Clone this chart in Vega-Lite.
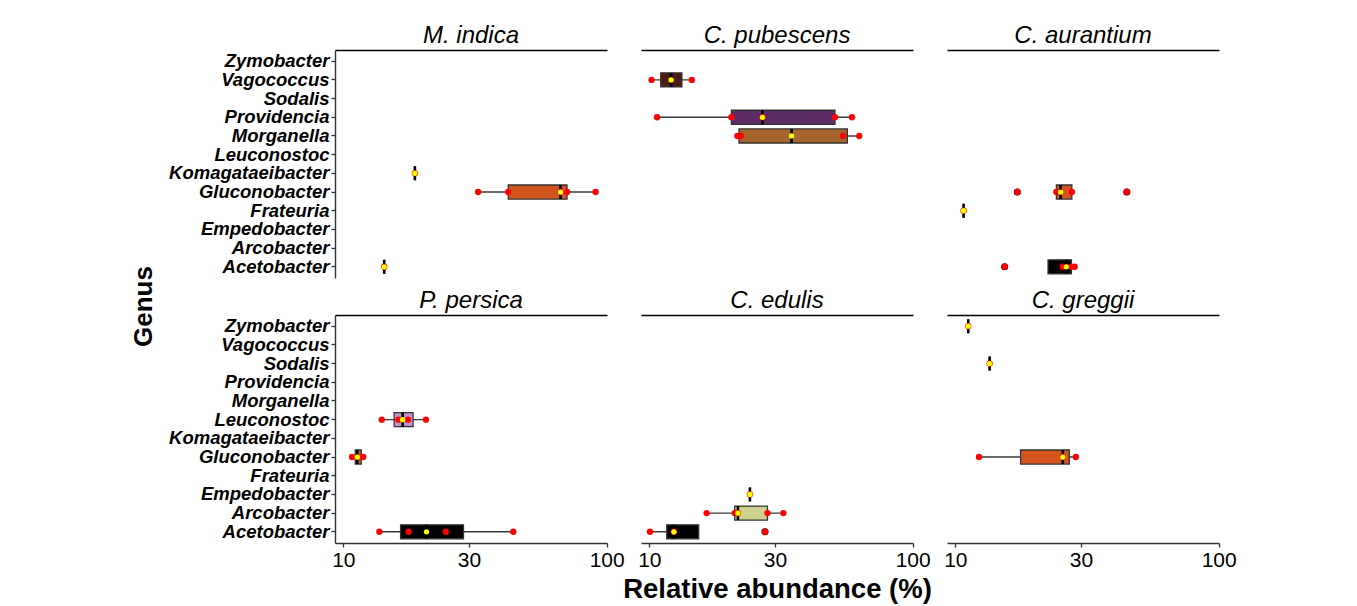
{
  "$schema": "https://vega.github.io/schema/vega-lite/v6.json",
  "padding": {"left": 130, "top": 24, "right": 5, "bottom": 5},
  "background": "white",
  "datasets": {
    "boxes": [
      {"plant": "M. indica", "genus": "Komagataeibacter", "lo": 18.7, "q1": 18.7, "med": 18.7, "q3": 18.7, "hi": 18.7},
      {"plant": "M. indica", "genus": "Gluconobacter", "lo": 32.5, "q1": 42.3, "med": 66.8, "q3": 70.7, "hi": 90.8},
      {"plant": "M. indica", "genus": "Acetobacter", "lo": 14.3, "q1": 14.3, "med": 14.3, "q3": 14.3, "hi": 14.3},
      {"plant": "C. pubescens", "genus": "Vagococcus", "lo": 10.2, "q1": 11.05, "med": 12.1, "q3": 13.3, "hi": 14.5},
      {"plant": "C. pubescens", "genus": "Providencia", "lo": 10.7, "q1": 20.5, "med": 26.9, "q3": 50.7, "hi": 58.8},
      {"plant": "C. pubescens", "genus": "Morganella", "lo": 21.6, "q1": 21.9, "med": 34.7, "q3": 56.5, "hi": 62.7},
      {"plant": "C. aurantium", "genus": "Gluconobacter", "lo": 24.2, "q1": 24.2, "med": 25.1, "q3": 27.7, "hi": 27.7},
      {"plant": "C. aurantium", "genus": "Frateuria", "lo": 10.75, "q1": 10.75, "med": 10.75, "q3": 10.75, "hi": 10.75},
      {"plant": "C. aurantium", "genus": "Acetobacter", "lo": 22.5, "q1": 22.5, "med": 26.4, "q3": 27.6, "hi": 28.4},
      {"plant": "P. persica", "genus": "Leuconostoc", "lo": 14.0, "q1": 15.6, "med": 16.8, "q3": 18.4, "hi": 20.6},
      {"plant": "P. persica", "genus": "Gluconobacter", "lo": 10.8, "q1": 11.1, "med": 11.3, "q3": 11.7, "hi": 11.9},
      {"plant": "P. persica", "genus": "Acetobacter", "lo": 13.7, "q1": 16.5, "med": 20.7, "q3": 28.6, "hi": 44.2},
      {"plant": "C. edulis", "genus": "Empedobacter", "lo": 24.1, "q1": 24.1, "med": 24.1, "q3": 24.1, "hi": 24.1},
      {"plant": "C. edulis", "genus": "Arcobacter", "lo": 16.5, "q1": 21.1, "med": 21.7, "q3": 28.1, "hi": 32.3},
      {"plant": "C. edulis", "genus": "Acetobacter", "lo": 10.06, "q1": 11.65, "med": 12.4, "q3": 15.4, "hi": 15.4},
      {"plant": "C. greggii", "genus": "Zymobacter", "lo": 11.2, "q1": 11.2, "med": 11.2, "q3": 11.2, "hi": 11.2},
      {"plant": "C. greggii", "genus": "Sodalis", "lo": 13.5, "q1": 13.5, "med": 13.5, "q3": 13.5, "hi": 13.5},
      {"plant": "C. greggii", "genus": "Gluconobacter", "lo": 12.3, "q1": 17.7, "med": 25.6, "q3": 27.1, "hi": 28.7}
    ],
    "points": [
      {"plant": "M. indica", "genus": "Komagataeibacter", "kind": "pt", "value": 18.7},
      {"plant": "M. indica", "genus": "Acetobacter", "kind": "pt", "value": 14.3},
      {"plant": "M. indica", "genus": "Gluconobacter", "kind": "pt", "value": 32.5},
      {"plant": "M. indica", "genus": "Gluconobacter", "kind": "pt", "value": 42.3},
      {"plant": "M. indica", "genus": "Gluconobacter", "kind": "pt", "value": 66.8},
      {"plant": "M. indica", "genus": "Gluconobacter", "kind": "pt", "value": 70.7},
      {"plant": "M. indica", "genus": "Gluconobacter", "kind": "pt", "value": 90.8},
      {"plant": "C. pubescens", "genus": "Vagococcus", "kind": "pt", "value": 10.2},
      {"plant": "C. pubescens", "genus": "Vagococcus", "kind": "pt", "value": 14.5},
      {"plant": "C. pubescens", "genus": "Providencia", "kind": "pt", "value": 10.7},
      {"plant": "C. pubescens", "genus": "Providencia", "kind": "pt", "value": 20.5},
      {"plant": "C. pubescens", "genus": "Providencia", "kind": "pt", "value": 26.9},
      {"plant": "C. pubescens", "genus": "Providencia", "kind": "pt", "value": 50.7},
      {"plant": "C. pubescens", "genus": "Providencia", "kind": "pt", "value": 58.8},
      {"plant": "C. pubescens", "genus": "Morganella", "kind": "pt", "value": 21.6},
      {"plant": "C. pubescens", "genus": "Morganella", "kind": "pt", "value": 22.3},
      {"plant": "C. pubescens", "genus": "Morganella", "kind": "pt", "value": 54.4},
      {"plant": "C. pubescens", "genus": "Morganella", "kind": "pt", "value": 62.7},
      {"plant": "C. aurantium", "genus": "Frateuria", "kind": "pt", "value": 10.75},
      {"plant": "C. aurantium", "genus": "Gluconobacter", "kind": "out", "value": 17.2},
      {"plant": "C. aurantium", "genus": "Gluconobacter", "kind": "out", "value": 44.8},
      {"plant": "C. aurantium", "genus": "Gluconobacter", "kind": "pt", "value": 17.2},
      {"plant": "C. aurantium", "genus": "Gluconobacter", "kind": "pt", "value": 24.2},
      {"plant": "C. aurantium", "genus": "Gluconobacter", "kind": "pt", "value": 27.7},
      {"plant": "C. aurantium", "genus": "Gluconobacter", "kind": "pt", "value": 44.8},
      {"plant": "C. aurantium", "genus": "Acetobacter", "kind": "out", "value": 15.4},
      {"plant": "C. aurantium", "genus": "Acetobacter", "kind": "pt", "value": 15.4},
      {"plant": "C. aurantium", "genus": "Acetobacter", "kind": "pt", "value": 25.6},
      {"plant": "C. aurantium", "genus": "Acetobacter", "kind": "pt", "value": 27.6},
      {"plant": "C. aurantium", "genus": "Acetobacter", "kind": "pt", "value": 28.4},
      {"plant": "P. persica", "genus": "Leuconostoc", "kind": "pt", "value": 14.0},
      {"plant": "P. persica", "genus": "Leuconostoc", "kind": "pt", "value": 16.2},
      {"plant": "P. persica", "genus": "Leuconostoc", "kind": "pt", "value": 17.6},
      {"plant": "P. persica", "genus": "Leuconostoc", "kind": "pt", "value": 20.6},
      {"plant": "P. persica", "genus": "Gluconobacter", "kind": "pt", "value": 10.8},
      {"plant": "P. persica", "genus": "Gluconobacter", "kind": "pt", "value": 11.9},
      {"plant": "P. persica", "genus": "Acetobacter", "kind": "pt", "value": 13.7},
      {"plant": "P. persica", "genus": "Acetobacter", "kind": "pt", "value": 17.7},
      {"plant": "P. persica", "genus": "Acetobacter", "kind": "pt", "value": 24.5},
      {"plant": "P. persica", "genus": "Acetobacter", "kind": "pt", "value": 44.2},
      {"plant": "C. edulis", "genus": "Empedobacter", "kind": "pt", "value": 24.1},
      {"plant": "C. edulis", "genus": "Arcobacter", "kind": "pt", "value": 16.5},
      {"plant": "C. edulis", "genus": "Arcobacter", "kind": "pt", "value": 21.1},
      {"plant": "C. edulis", "genus": "Arcobacter", "kind": "pt", "value": 21.7},
      {"plant": "C. edulis", "genus": "Arcobacter", "kind": "pt", "value": 28.1},
      {"plant": "C. edulis", "genus": "Arcobacter", "kind": "pt", "value": 32.3},
      {"plant": "C. edulis", "genus": "Acetobacter", "kind": "out", "value": 27.5},
      {"plant": "C. edulis", "genus": "Acetobacter", "kind": "pt", "value": 10.06},
      {"plant": "C. edulis", "genus": "Acetobacter", "kind": "pt", "value": 12.4},
      {"plant": "C. edulis", "genus": "Acetobacter", "kind": "pt", "value": 27.5},
      {"plant": "C. greggii", "genus": "Zymobacter", "kind": "pt", "value": 11.2},
      {"plant": "C. greggii", "genus": "Sodalis", "kind": "pt", "value": 13.5},
      {"plant": "C. greggii", "genus": "Gluconobacter", "kind": "pt", "value": 12.3},
      {"plant": "C. greggii", "genus": "Gluconobacter", "kind": "pt", "value": 25.6},
      {"plant": "C. greggii", "genus": "Gluconobacter", "kind": "pt", "value": 28.7}
    ]
  },
  "columns": 3,
  "bounds": "flush",
  "spacing": {"row": 37, "column": 34},
  "concat": [
    {
      "width": 272, "height": 228,
      "title": {"text": "M. indica"},
      "resolve": {"axis": {"x": "independent", "y": "independent"}},
      "layer": [
        {"data": {"name": "boxes"}, "transform": [{"filter": "datum.plant === 'M. indica'"}],
         "mark": {"type": "rule", "color": "#3a3a3a", "strokeWidth": 1.4},
         "encoding": {
           "x": {"field": "lo", "type": "quantitative", "scale": {"type": "log", "domain": [9.3, 100.3], "nice": false}, "axis": {"orient": "top", "labels": false, "ticks": false, "title": null, "domainColor": "#000", "domainWidth": 1.5}},
           "x2": {"field": "hi"},
           "y": {"field": "genus", "type": "nominal", "scale": {"type": "band", "domain": ["Zymobacter","Vagococcus","Sodalis","Providencia","Morganella","Leuconostoc","Komagataeibacter","Gluconobacter","Frateuria","Empedobacter","Arcobacter","Acetobacter"], "paddingInner": 0.25, "paddingOuter": 0.225}, "axis": {"title": "Genus", "titleY": 256}}
         }},
        {"data": {"name": "boxes"}, "transform": [{"filter": "datum.plant === 'M. indica'"}],
         "mark": {"type": "bar", "stroke": "#333333", "strokeWidth": 1.3},
         "encoding": {
           "x": {"field": "q1", "type": "quantitative", "scale": {"type": "log", "domain": [9.3, 100.3], "nice": false}, "axis": null},
           "x2": {"field": "q3"},
           "y": {"field": "genus", "type": "nominal", "scale": {"type": "band", "domain": ["Zymobacter","Vagococcus","Sodalis","Providencia","Morganella","Leuconostoc","Komagataeibacter","Gluconobacter","Frateuria","Empedobacter","Arcobacter","Acetobacter"], "paddingInner": 0.25, "paddingOuter": 0.225}, "axis": null},
           "fill": {"field": "genus", "type": "nominal", "legend": null, "scale": {"domain": ["Acetobacter","Gluconobacter","Providencia","Morganella","Vagococcus","Leuconostoc","Arcobacter","Frateuria","Komagataeibacter","Empedobacter","Zymobacter","Sodalis"], "range": ["#000000","#D4561F","#5E2C69","#A6642E","#4E1B17","#C590CF","#CDD38F","#808080","#808080","#808080","#808080","#808080"]}}
         }},
        {"data": {"name": "boxes"}, "transform": [{"filter": "datum.plant === 'M. indica'"}],
         "mark": {"type": "bar", "stroke": "#000000", "strokeWidth": 2.6, "fill": "#000000"},
         "encoding": {
           "x": {"field": "med", "type": "quantitative", "scale": {"type": "log", "domain": [9.3, 100.3], "nice": false}, "axis": null},
           "x2": {"field": "med"},
           "y": {"field": "genus", "type": "nominal", "scale": {"type": "band", "domain": ["Zymobacter","Vagococcus","Sodalis","Providencia","Morganella","Leuconostoc","Komagataeibacter","Gluconobacter","Frateuria","Empedobacter","Arcobacter","Acetobacter"], "paddingInner": 0.25, "paddingOuter": 0.225}, "axis": null}
         }},
        {"data": {"name": "points"}, "transform": [{"filter": "datum.plant === 'M. indica' && datum.kind === 'out'"}],
         "mark": {"type": "circle", "color": "#000000", "size": 50, "opacity": 1},
         "encoding": {
           "x": {"field": "value", "type": "quantitative", "scale": {"type": "log", "domain": [9.3, 100.3], "nice": false}, "axis": null},
           "y": {"field": "genus", "type": "nominal", "scale": {"type": "band", "domain": ["Zymobacter","Vagococcus","Sodalis","Providencia","Morganella","Leuconostoc","Komagataeibacter","Gluconobacter","Frateuria","Empedobacter","Arcobacter","Acetobacter"], "paddingInner": 0.25, "paddingOuter": 0.225}, "axis": null}
         }},
        {"data": {"name": "points"}, "transform": [{"filter": "datum.plant === 'M. indica' && datum.kind === 'pt'"}],
         "mark": {"type": "circle", "color": "#FF0000", "size": 40, "opacity": 1},
         "encoding": {
           "x": {"field": "value", "type": "quantitative", "scale": {"type": "log", "domain": [9.3, 100.3], "nice": false}, "axis": null},
           "y": {"field": "genus", "type": "nominal", "scale": {"type": "band", "domain": ["Zymobacter","Vagococcus","Sodalis","Providencia","Morganella","Leuconostoc","Komagataeibacter","Gluconobacter","Frateuria","Empedobacter","Arcobacter","Acetobacter"], "paddingInner": 0.25, "paddingOuter": 0.225}, "axis": null}
         }},
        {"data": {"name": "boxes"}, "transform": [{"filter": "datum.plant === 'M. indica'"}],
         "mark": {"type": "circle", "color": "#FFFF00", "size": 28, "opacity": 1},
         "encoding": {
           "x": {"field": "med", "type": "quantitative", "scale": {"type": "log", "domain": [9.3, 100.3], "nice": false}, "axis": null},
           "y": {"field": "genus", "type": "nominal", "scale": {"type": "band", "domain": ["Zymobacter","Vagococcus","Sodalis","Providencia","Morganella","Leuconostoc","Komagataeibacter","Gluconobacter","Frateuria","Empedobacter","Arcobacter","Acetobacter"], "paddingInner": 0.25, "paddingOuter": 0.225}, "axis": null}
         }}
      ]
    },
    {
      "width": 272, "height": 228,
      "title": {"text": "C. pubescens"},
      "resolve": {"axis": {"x": "independent", "y": "independent"}},
      "layer": [
        {"data": {"name": "boxes"}, "transform": [{"filter": "datum.plant === 'C. pubescens'"}],
         "mark": {"type": "rule", "color": "#3a3a3a", "strokeWidth": 1.4},
         "encoding": {
           "x": {"field": "lo", "type": "quantitative", "scale": {"type": "log", "domain": [9.3, 100.3], "nice": false}, "axis": {"orient": "top", "labels": false, "ticks": false, "title": null, "domainColor": "#000", "domainWidth": 1.5}},
           "x2": {"field": "hi"},
           "y": {"field": "genus", "type": "nominal", "scale": {"type": "band", "domain": ["Zymobacter","Vagococcus","Sodalis","Providencia","Morganella","Leuconostoc","Komagataeibacter","Gluconobacter","Frateuria","Empedobacter","Arcobacter","Acetobacter"], "paddingInner": 0.25, "paddingOuter": 0.225}, "axis": null}
         }},
        {"data": {"name": "boxes"}, "transform": [{"filter": "datum.plant === 'C. pubescens'"}],
         "mark": {"type": "bar", "stroke": "#333333", "strokeWidth": 1.3},
         "encoding": {
           "x": {"field": "q1", "type": "quantitative", "scale": {"type": "log", "domain": [9.3, 100.3], "nice": false}, "axis": null},
           "x2": {"field": "q3"},
           "y": {"field": "genus", "type": "nominal", "scale": {"type": "band", "domain": ["Zymobacter","Vagococcus","Sodalis","Providencia","Morganella","Leuconostoc","Komagataeibacter","Gluconobacter","Frateuria","Empedobacter","Arcobacter","Acetobacter"], "paddingInner": 0.25, "paddingOuter": 0.225}, "axis": null},
           "fill": {"field": "genus", "type": "nominal", "legend": null, "scale": {"domain": ["Acetobacter","Gluconobacter","Providencia","Morganella","Vagococcus","Leuconostoc","Arcobacter","Frateuria","Komagataeibacter","Empedobacter","Zymobacter","Sodalis"], "range": ["#000000","#D4561F","#5E2C69","#A6642E","#4E1B17","#C590CF","#CDD38F","#808080","#808080","#808080","#808080","#808080"]}}
         }},
        {"data": {"name": "boxes"}, "transform": [{"filter": "datum.plant === 'C. pubescens'"}],
         "mark": {"type": "bar", "stroke": "#000000", "strokeWidth": 2.6, "fill": "#000000"},
         "encoding": {
           "x": {"field": "med", "type": "quantitative", "scale": {"type": "log", "domain": [9.3, 100.3], "nice": false}, "axis": null},
           "x2": {"field": "med"},
           "y": {"field": "genus", "type": "nominal", "scale": {"type": "band", "domain": ["Zymobacter","Vagococcus","Sodalis","Providencia","Morganella","Leuconostoc","Komagataeibacter","Gluconobacter","Frateuria","Empedobacter","Arcobacter","Acetobacter"], "paddingInner": 0.25, "paddingOuter": 0.225}, "axis": null}
         }},
        {"data": {"name": "points"}, "transform": [{"filter": "datum.plant === 'C. pubescens' && datum.kind === 'out'"}],
         "mark": {"type": "circle", "color": "#000000", "size": 50, "opacity": 1},
         "encoding": {
           "x": {"field": "value", "type": "quantitative", "scale": {"type": "log", "domain": [9.3, 100.3], "nice": false}, "axis": null},
           "y": {"field": "genus", "type": "nominal", "scale": {"type": "band", "domain": ["Zymobacter","Vagococcus","Sodalis","Providencia","Morganella","Leuconostoc","Komagataeibacter","Gluconobacter","Frateuria","Empedobacter","Arcobacter","Acetobacter"], "paddingInner": 0.25, "paddingOuter": 0.225}, "axis": null}
         }},
        {"data": {"name": "points"}, "transform": [{"filter": "datum.plant === 'C. pubescens' && datum.kind === 'pt'"}],
         "mark": {"type": "circle", "color": "#FF0000", "size": 40, "opacity": 1},
         "encoding": {
           "x": {"field": "value", "type": "quantitative", "scale": {"type": "log", "domain": [9.3, 100.3], "nice": false}, "axis": null},
           "y": {"field": "genus", "type": "nominal", "scale": {"type": "band", "domain": ["Zymobacter","Vagococcus","Sodalis","Providencia","Morganella","Leuconostoc","Komagataeibacter","Gluconobacter","Frateuria","Empedobacter","Arcobacter","Acetobacter"], "paddingInner": 0.25, "paddingOuter": 0.225}, "axis": null}
         }},
        {"data": {"name": "boxes"}, "transform": [{"filter": "datum.plant === 'C. pubescens'"}],
         "mark": {"type": "circle", "color": "#FFFF00", "size": 28, "opacity": 1},
         "encoding": {
           "x": {"field": "med", "type": "quantitative", "scale": {"type": "log", "domain": [9.3, 100.3], "nice": false}, "axis": null},
           "y": {"field": "genus", "type": "nominal", "scale": {"type": "band", "domain": ["Zymobacter","Vagococcus","Sodalis","Providencia","Morganella","Leuconostoc","Komagataeibacter","Gluconobacter","Frateuria","Empedobacter","Arcobacter","Acetobacter"], "paddingInner": 0.25, "paddingOuter": 0.225}, "axis": null}
         }}
      ]
    },
    {
      "width": 272, "height": 228,
      "title": {"text": "C. aurantium"},
      "resolve": {"axis": {"x": "independent", "y": "independent"}},
      "layer": [
        {"data": {"name": "boxes"}, "transform": [{"filter": "datum.plant === 'C. aurantium'"}],
         "mark": {"type": "rule", "color": "#3a3a3a", "strokeWidth": 1.4},
         "encoding": {
           "x": {"field": "lo", "type": "quantitative", "scale": {"type": "log", "domain": [9.3, 100.3], "nice": false}, "axis": {"orient": "top", "labels": false, "ticks": false, "title": null, "domainColor": "#000", "domainWidth": 1.5}},
           "x2": {"field": "hi"},
           "y": {"field": "genus", "type": "nominal", "scale": {"type": "band", "domain": ["Zymobacter","Vagococcus","Sodalis","Providencia","Morganella","Leuconostoc","Komagataeibacter","Gluconobacter","Frateuria","Empedobacter","Arcobacter","Acetobacter"], "paddingInner": 0.25, "paddingOuter": 0.225}, "axis": null}
         }},
        {"data": {"name": "boxes"}, "transform": [{"filter": "datum.plant === 'C. aurantium'"}],
         "mark": {"type": "bar", "stroke": "#333333", "strokeWidth": 1.3},
         "encoding": {
           "x": {"field": "q1", "type": "quantitative", "scale": {"type": "log", "domain": [9.3, 100.3], "nice": false}, "axis": null},
           "x2": {"field": "q3"},
           "y": {"field": "genus", "type": "nominal", "scale": {"type": "band", "domain": ["Zymobacter","Vagococcus","Sodalis","Providencia","Morganella","Leuconostoc","Komagataeibacter","Gluconobacter","Frateuria","Empedobacter","Arcobacter","Acetobacter"], "paddingInner": 0.25, "paddingOuter": 0.225}, "axis": null},
           "fill": {"field": "genus", "type": "nominal", "legend": null, "scale": {"domain": ["Acetobacter","Gluconobacter","Providencia","Morganella","Vagococcus","Leuconostoc","Arcobacter","Frateuria","Komagataeibacter","Empedobacter","Zymobacter","Sodalis"], "range": ["#000000","#D4561F","#5E2C69","#A6642E","#4E1B17","#C590CF","#CDD38F","#808080","#808080","#808080","#808080","#808080"]}}
         }},
        {"data": {"name": "boxes"}, "transform": [{"filter": "datum.plant === 'C. aurantium'"}],
         "mark": {"type": "bar", "stroke": "#000000", "strokeWidth": 2.6, "fill": "#000000"},
         "encoding": {
           "x": {"field": "med", "type": "quantitative", "scale": {"type": "log", "domain": [9.3, 100.3], "nice": false}, "axis": null},
           "x2": {"field": "med"},
           "y": {"field": "genus", "type": "nominal", "scale": {"type": "band", "domain": ["Zymobacter","Vagococcus","Sodalis","Providencia","Morganella","Leuconostoc","Komagataeibacter","Gluconobacter","Frateuria","Empedobacter","Arcobacter","Acetobacter"], "paddingInner": 0.25, "paddingOuter": 0.225}, "axis": null}
         }},
        {"data": {"name": "points"}, "transform": [{"filter": "datum.plant === 'C. aurantium' && datum.kind === 'out'"}],
         "mark": {"type": "circle", "color": "#000000", "size": 50, "opacity": 1},
         "encoding": {
           "x": {"field": "value", "type": "quantitative", "scale": {"type": "log", "domain": [9.3, 100.3], "nice": false}, "axis": null},
           "y": {"field": "genus", "type": "nominal", "scale": {"type": "band", "domain": ["Zymobacter","Vagococcus","Sodalis","Providencia","Morganella","Leuconostoc","Komagataeibacter","Gluconobacter","Frateuria","Empedobacter","Arcobacter","Acetobacter"], "paddingInner": 0.25, "paddingOuter": 0.225}, "axis": null}
         }},
        {"data": {"name": "points"}, "transform": [{"filter": "datum.plant === 'C. aurantium' && datum.kind === 'pt'"}],
         "mark": {"type": "circle", "color": "#FF0000", "size": 40, "opacity": 1},
         "encoding": {
           "x": {"field": "value", "type": "quantitative", "scale": {"type": "log", "domain": [9.3, 100.3], "nice": false}, "axis": null},
           "y": {"field": "genus", "type": "nominal", "scale": {"type": "band", "domain": ["Zymobacter","Vagococcus","Sodalis","Providencia","Morganella","Leuconostoc","Komagataeibacter","Gluconobacter","Frateuria","Empedobacter","Arcobacter","Acetobacter"], "paddingInner": 0.25, "paddingOuter": 0.225}, "axis": null}
         }},
        {"data": {"name": "boxes"}, "transform": [{"filter": "datum.plant === 'C. aurantium'"}],
         "mark": {"type": "circle", "color": "#FFFF00", "size": 28, "opacity": 1},
         "encoding": {
           "x": {"field": "med", "type": "quantitative", "scale": {"type": "log", "domain": [9.3, 100.3], "nice": false}, "axis": null},
           "y": {"field": "genus", "type": "nominal", "scale": {"type": "band", "domain": ["Zymobacter","Vagococcus","Sodalis","Providencia","Morganella","Leuconostoc","Komagataeibacter","Gluconobacter","Frateuria","Empedobacter","Arcobacter","Acetobacter"], "paddingInner": 0.25, "paddingOuter": 0.225}, "axis": null}
         }}
      ]
    },
    {
      "width": 272, "height": 228,
      "title": {"text": "P. persica"},
      "resolve": {"axis": {"x": "independent", "y": "independent"}},
      "layer": [
        {"data": {"name": "boxes"}, "transform": [{"filter": "datum.plant === 'P. persica'"}],
         "mark": {"type": "rule", "color": "#3a3a3a", "strokeWidth": 1.4},
         "encoding": {
           "x": {"field": "lo", "type": "quantitative", "scale": {"type": "log", "domain": [9.3, 100.3], "nice": false}, "axis": {"orient": "top", "labels": false, "ticks": false, "title": null, "domainColor": "#000", "domainWidth": 1.5}},
           "x2": {"field": "hi"},
           "y": {"field": "genus", "type": "nominal", "scale": {"type": "band", "domain": ["Zymobacter","Vagococcus","Sodalis","Providencia","Morganella","Leuconostoc","Komagataeibacter","Gluconobacter","Frateuria","Empedobacter","Arcobacter","Acetobacter"], "paddingInner": 0.25, "paddingOuter": 0.225}, "axis": {"title": null}}
         }},
        {"data": {"name": "boxes"}, "transform": [{"filter": "datum.plant === 'P. persica'"}],
         "mark": {"type": "bar", "stroke": "#333333", "strokeWidth": 1.3},
         "encoding": {
           "x": {"field": "q1", "type": "quantitative", "scale": {"type": "log", "domain": [9.3, 100.3], "nice": false}, "axis": {"orient": "bottom", "values": [10, 30, 100], "format": "d", "title": null}},
           "x2": {"field": "q3"},
           "y": {"field": "genus", "type": "nominal", "scale": {"type": "band", "domain": ["Zymobacter","Vagococcus","Sodalis","Providencia","Morganella","Leuconostoc","Komagataeibacter","Gluconobacter","Frateuria","Empedobacter","Arcobacter","Acetobacter"], "paddingInner": 0.25, "paddingOuter": 0.225}, "axis": null},
           "fill": {"field": "genus", "type": "nominal", "legend": null, "scale": {"domain": ["Acetobacter","Gluconobacter","Providencia","Morganella","Vagococcus","Leuconostoc","Arcobacter","Frateuria","Komagataeibacter","Empedobacter","Zymobacter","Sodalis"], "range": ["#000000","#D4561F","#5E2C69","#A6642E","#4E1B17","#C590CF","#CDD38F","#808080","#808080","#808080","#808080","#808080"]}}
         }},
        {"data": {"name": "boxes"}, "transform": [{"filter": "datum.plant === 'P. persica'"}],
         "mark": {"type": "bar", "stroke": "#000000", "strokeWidth": 2.6, "fill": "#000000"},
         "encoding": {
           "x": {"field": "med", "type": "quantitative", "scale": {"type": "log", "domain": [9.3, 100.3], "nice": false}, "axis": null},
           "x2": {"field": "med"},
           "y": {"field": "genus", "type": "nominal", "scale": {"type": "band", "domain": ["Zymobacter","Vagococcus","Sodalis","Providencia","Morganella","Leuconostoc","Komagataeibacter","Gluconobacter","Frateuria","Empedobacter","Arcobacter","Acetobacter"], "paddingInner": 0.25, "paddingOuter": 0.225}, "axis": null}
         }},
        {"data": {"name": "points"}, "transform": [{"filter": "datum.plant === 'P. persica' && datum.kind === 'out'"}],
         "mark": {"type": "circle", "color": "#000000", "size": 50, "opacity": 1},
         "encoding": {
           "x": {"field": "value", "type": "quantitative", "scale": {"type": "log", "domain": [9.3, 100.3], "nice": false}, "axis": null},
           "y": {"field": "genus", "type": "nominal", "scale": {"type": "band", "domain": ["Zymobacter","Vagococcus","Sodalis","Providencia","Morganella","Leuconostoc","Komagataeibacter","Gluconobacter","Frateuria","Empedobacter","Arcobacter","Acetobacter"], "paddingInner": 0.25, "paddingOuter": 0.225}, "axis": null}
         }},
        {"data": {"name": "points"}, "transform": [{"filter": "datum.plant === 'P. persica' && datum.kind === 'pt'"}],
         "mark": {"type": "circle", "color": "#FF0000", "size": 40, "opacity": 1},
         "encoding": {
           "x": {"field": "value", "type": "quantitative", "scale": {"type": "log", "domain": [9.3, 100.3], "nice": false}, "axis": null},
           "y": {"field": "genus", "type": "nominal", "scale": {"type": "band", "domain": ["Zymobacter","Vagococcus","Sodalis","Providencia","Morganella","Leuconostoc","Komagataeibacter","Gluconobacter","Frateuria","Empedobacter","Arcobacter","Acetobacter"], "paddingInner": 0.25, "paddingOuter": 0.225}, "axis": null}
         }},
        {"data": {"name": "boxes"}, "transform": [{"filter": "datum.plant === 'P. persica'"}],
         "mark": {"type": "circle", "color": "#FFFF00", "size": 28, "opacity": 1},
         "encoding": {
           "x": {"field": "med", "type": "quantitative", "scale": {"type": "log", "domain": [9.3, 100.3], "nice": false}, "axis": null},
           "y": {"field": "genus", "type": "nominal", "scale": {"type": "band", "domain": ["Zymobacter","Vagococcus","Sodalis","Providencia","Morganella","Leuconostoc","Komagataeibacter","Gluconobacter","Frateuria","Empedobacter","Arcobacter","Acetobacter"], "paddingInner": 0.25, "paddingOuter": 0.225}, "axis": null}
         }}
      ]
    },
    {
      "width": 272, "height": 228,
      "title": {"text": "C. edulis"},
      "resolve": {"axis": {"x": "independent", "y": "independent"}},
      "layer": [
        {"data": {"name": "boxes"}, "transform": [{"filter": "datum.plant === 'C. edulis'"}],
         "mark": {"type": "rule", "color": "#3a3a3a", "strokeWidth": 1.4},
         "encoding": {
           "x": {"field": "lo", "type": "quantitative", "scale": {"type": "log", "domain": [9.3, 100.3], "nice": false}, "axis": {"orient": "top", "labels": false, "ticks": false, "title": null, "domainColor": "#000", "domainWidth": 1.5}},
           "x2": {"field": "hi"},
           "y": {"field": "genus", "type": "nominal", "scale": {"type": "band", "domain": ["Zymobacter","Vagococcus","Sodalis","Providencia","Morganella","Leuconostoc","Komagataeibacter","Gluconobacter","Frateuria","Empedobacter","Arcobacter","Acetobacter"], "paddingInner": 0.25, "paddingOuter": 0.225}, "axis": null}
         }},
        {"data": {"name": "boxes"}, "transform": [{"filter": "datum.plant === 'C. edulis'"}],
         "mark": {"type": "bar", "stroke": "#333333", "strokeWidth": 1.3},
         "encoding": {
           "x": {"field": "q1", "type": "quantitative", "scale": {"type": "log", "domain": [9.3, 100.3], "nice": false}, "axis": {"orient": "bottom", "values": [10, 30, 100], "format": "d", "title": "Relative abundance (%)"}},
           "x2": {"field": "q3"},
           "y": {"field": "genus", "type": "nominal", "scale": {"type": "band", "domain": ["Zymobacter","Vagococcus","Sodalis","Providencia","Morganella","Leuconostoc","Komagataeibacter","Gluconobacter","Frateuria","Empedobacter","Arcobacter","Acetobacter"], "paddingInner": 0.25, "paddingOuter": 0.225}, "axis": null},
           "fill": {"field": "genus", "type": "nominal", "legend": null, "scale": {"domain": ["Acetobacter","Gluconobacter","Providencia","Morganella","Vagococcus","Leuconostoc","Arcobacter","Frateuria","Komagataeibacter","Empedobacter","Zymobacter","Sodalis"], "range": ["#000000","#D4561F","#5E2C69","#A6642E","#4E1B17","#C590CF","#CDD38F","#808080","#808080","#808080","#808080","#808080"]}}
         }},
        {"data": {"name": "boxes"}, "transform": [{"filter": "datum.plant === 'C. edulis'"}],
         "mark": {"type": "bar", "stroke": "#000000", "strokeWidth": 2.6, "fill": "#000000"},
         "encoding": {
           "x": {"field": "med", "type": "quantitative", "scale": {"type": "log", "domain": [9.3, 100.3], "nice": false}, "axis": null},
           "x2": {"field": "med"},
           "y": {"field": "genus", "type": "nominal", "scale": {"type": "band", "domain": ["Zymobacter","Vagococcus","Sodalis","Providencia","Morganella","Leuconostoc","Komagataeibacter","Gluconobacter","Frateuria","Empedobacter","Arcobacter","Acetobacter"], "paddingInner": 0.25, "paddingOuter": 0.225}, "axis": null}
         }},
        {"data": {"name": "points"}, "transform": [{"filter": "datum.plant === 'C. edulis' && datum.kind === 'out'"}],
         "mark": {"type": "circle", "color": "#000000", "size": 50, "opacity": 1},
         "encoding": {
           "x": {"field": "value", "type": "quantitative", "scale": {"type": "log", "domain": [9.3, 100.3], "nice": false}, "axis": null},
           "y": {"field": "genus", "type": "nominal", "scale": {"type": "band", "domain": ["Zymobacter","Vagococcus","Sodalis","Providencia","Morganella","Leuconostoc","Komagataeibacter","Gluconobacter","Frateuria","Empedobacter","Arcobacter","Acetobacter"], "paddingInner": 0.25, "paddingOuter": 0.225}, "axis": null}
         }},
        {"data": {"name": "points"}, "transform": [{"filter": "datum.plant === 'C. edulis' && datum.kind === 'pt'"}],
         "mark": {"type": "circle", "color": "#FF0000", "size": 40, "opacity": 1},
         "encoding": {
           "x": {"field": "value", "type": "quantitative", "scale": {"type": "log", "domain": [9.3, 100.3], "nice": false}, "axis": null},
           "y": {"field": "genus", "type": "nominal", "scale": {"type": "band", "domain": ["Zymobacter","Vagococcus","Sodalis","Providencia","Morganella","Leuconostoc","Komagataeibacter","Gluconobacter","Frateuria","Empedobacter","Arcobacter","Acetobacter"], "paddingInner": 0.25, "paddingOuter": 0.225}, "axis": null}
         }},
        {"data": {"name": "boxes"}, "transform": [{"filter": "datum.plant === 'C. edulis'"}],
         "mark": {"type": "circle", "color": "#FFFF00", "size": 28, "opacity": 1},
         "encoding": {
           "x": {"field": "med", "type": "quantitative", "scale": {"type": "log", "domain": [9.3, 100.3], "nice": false}, "axis": null},
           "y": {"field": "genus", "type": "nominal", "scale": {"type": "band", "domain": ["Zymobacter","Vagococcus","Sodalis","Providencia","Morganella","Leuconostoc","Komagataeibacter","Gluconobacter","Frateuria","Empedobacter","Arcobacter","Acetobacter"], "paddingInner": 0.25, "paddingOuter": 0.225}, "axis": null}
         }}
      ]
    },
    {
      "width": 272, "height": 228,
      "title": {"text": "C. greggii"},
      "resolve": {"axis": {"x": "independent", "y": "independent"}},
      "layer": [
        {"data": {"name": "boxes"}, "transform": [{"filter": "datum.plant === 'C. greggii'"}],
         "mark": {"type": "rule", "color": "#3a3a3a", "strokeWidth": 1.4},
         "encoding": {
           "x": {"field": "lo", "type": "quantitative", "scale": {"type": "log", "domain": [9.3, 100.3], "nice": false}, "axis": {"orient": "top", "labels": false, "ticks": false, "title": null, "domainColor": "#000", "domainWidth": 1.5}},
           "x2": {"field": "hi"},
           "y": {"field": "genus", "type": "nominal", "scale": {"type": "band", "domain": ["Zymobacter","Vagococcus","Sodalis","Providencia","Morganella","Leuconostoc","Komagataeibacter","Gluconobacter","Frateuria","Empedobacter","Arcobacter","Acetobacter"], "paddingInner": 0.25, "paddingOuter": 0.225}, "axis": null}
         }},
        {"data": {"name": "boxes"}, "transform": [{"filter": "datum.plant === 'C. greggii'"}],
         "mark": {"type": "bar", "stroke": "#333333", "strokeWidth": 1.3},
         "encoding": {
           "x": {"field": "q1", "type": "quantitative", "scale": {"type": "log", "domain": [9.3, 100.3], "nice": false}, "axis": {"orient": "bottom", "values": [10, 30, 100], "format": "d", "title": null}},
           "x2": {"field": "q3"},
           "y": {"field": "genus", "type": "nominal", "scale": {"type": "band", "domain": ["Zymobacter","Vagococcus","Sodalis","Providencia","Morganella","Leuconostoc","Komagataeibacter","Gluconobacter","Frateuria","Empedobacter","Arcobacter","Acetobacter"], "paddingInner": 0.25, "paddingOuter": 0.225}, "axis": null},
           "fill": {"field": "genus", "type": "nominal", "legend": null, "scale": {"domain": ["Acetobacter","Gluconobacter","Providencia","Morganella","Vagococcus","Leuconostoc","Arcobacter","Frateuria","Komagataeibacter","Empedobacter","Zymobacter","Sodalis"], "range": ["#000000","#D4561F","#5E2C69","#A6642E","#4E1B17","#C590CF","#CDD38F","#808080","#808080","#808080","#808080","#808080"]}}
         }},
        {"data": {"name": "boxes"}, "transform": [{"filter": "datum.plant === 'C. greggii'"}],
         "mark": {"type": "bar", "stroke": "#000000", "strokeWidth": 2.6, "fill": "#000000"},
         "encoding": {
           "x": {"field": "med", "type": "quantitative", "scale": {"type": "log", "domain": [9.3, 100.3], "nice": false}, "axis": null},
           "x2": {"field": "med"},
           "y": {"field": "genus", "type": "nominal", "scale": {"type": "band", "domain": ["Zymobacter","Vagococcus","Sodalis","Providencia","Morganella","Leuconostoc","Komagataeibacter","Gluconobacter","Frateuria","Empedobacter","Arcobacter","Acetobacter"], "paddingInner": 0.25, "paddingOuter": 0.225}, "axis": null}
         }},
        {"data": {"name": "points"}, "transform": [{"filter": "datum.plant === 'C. greggii' && datum.kind === 'out'"}],
         "mark": {"type": "circle", "color": "#000000", "size": 50, "opacity": 1},
         "encoding": {
           "x": {"field": "value", "type": "quantitative", "scale": {"type": "log", "domain": [9.3, 100.3], "nice": false}, "axis": null},
           "y": {"field": "genus", "type": "nominal", "scale": {"type": "band", "domain": ["Zymobacter","Vagococcus","Sodalis","Providencia","Morganella","Leuconostoc","Komagataeibacter","Gluconobacter","Frateuria","Empedobacter","Arcobacter","Acetobacter"], "paddingInner": 0.25, "paddingOuter": 0.225}, "axis": null}
         }},
        {"data": {"name": "points"}, "transform": [{"filter": "datum.plant === 'C. greggii' && datum.kind === 'pt'"}],
         "mark": {"type": "circle", "color": "#FF0000", "size": 40, "opacity": 1},
         "encoding": {
           "x": {"field": "value", "type": "quantitative", "scale": {"type": "log", "domain": [9.3, 100.3], "nice": false}, "axis": null},
           "y": {"field": "genus", "type": "nominal", "scale": {"type": "band", "domain": ["Zymobacter","Vagococcus","Sodalis","Providencia","Morganella","Leuconostoc","Komagataeibacter","Gluconobacter","Frateuria","Empedobacter","Arcobacter","Acetobacter"], "paddingInner": 0.25, "paddingOuter": 0.225}, "axis": null}
         }},
        {"data": {"name": "boxes"}, "transform": [{"filter": "datum.plant === 'C. greggii'"}],
         "mark": {"type": "circle", "color": "#FFFF00", "size": 28, "opacity": 1},
         "encoding": {
           "x": {"field": "med", "type": "quantitative", "scale": {"type": "log", "domain": [9.3, 100.3], "nice": false}, "axis": null},
           "y": {"field": "genus", "type": "nominal", "scale": {"type": "band", "domain": ["Zymobacter","Vagococcus","Sodalis","Providencia","Morganella","Leuconostoc","Komagataeibacter","Gluconobacter","Frateuria","Empedobacter","Arcobacter","Acetobacter"], "paddingInner": 0.25, "paddingOuter": 0.225}, "axis": null}
         }}
      ]
    }
  ],
  "config": {
    "font": "Liberation Sans",
    "view": {"stroke": null},
    "title": {"font": "Liberation Sans", "fontSize": 24, "fontStyle": "italic", "fontWeight": "normal", "color": "#000000", "offset": 2},
    "axis": {"grid": false, "labelFont": "Liberation Sans", "labelColor": "#000000", "tickColor": "#333333", "domainColor": "#333333", "tickSize": 4, "tickWidth": 1.3, "domainWidth": 1.4, "titleFont": "Liberation Sans", "titleColor": "#000000", "titleFontWeight": "bold", "titleFontSize": 26},
    "axisX": {"labelFontSize": 21, "labelPadding": 2, "titlePadding": 5, "labelFlush": false, "titleFontSize": 27.5},
    "axisY": {"labelFontSize": 18.5, "labelFontWeight": "bold", "labelFontStyle": "italic", "labelPadding": 2, "titlePadding": 12, "titleFontSize": 26}
  }
}
